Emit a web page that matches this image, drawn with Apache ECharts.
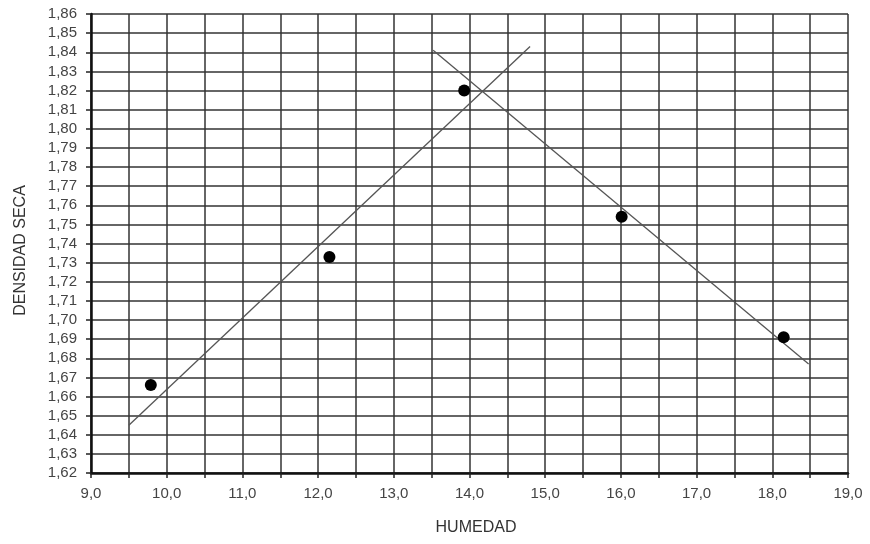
<!DOCTYPE html>
<html>
<head>
<meta charset="utf-8">
<script src="https://cdn.jsdelivr.net/npm/echarts@6/dist/echarts.min.js"></script>
<style>html,body{margin:0;padding:0;background:#fff}#c{width:870px;height:544px}</style>
</head>
<body>
<div id="c"></div>
<script>
// Data
const humedad = [9.79, 12.15, 13.93, 16.01, 18.15];
const densidad = [1.666, 1.733, 1.820, 1.754, 1.691];
const lineaSecaX = [9.5, 14.8];
const lineaSecaY = [1.645, 1.843];
const lineaHumedaX = [13.52, 18.48];
const lineaHumedaY = [1.841, 1.677];
const xTitle = 'HUMEDAD';
const yTitle = 'DENSIDAD SECA';

const chart = echarts.init(document.getElementById('c'));
const fmt = (v, d) => v.toFixed(d).replace('.', ',');
chart.setOption({
  animation: false,
  backgroundColor: '#fff',
  grid: {left: 91, right: 22, top: 14, bottom: 71},
  xAxis: {
    type: 'value', min: 9, max: 19, interval: 0.5,
    name: xTitle, nameLocation: 'middle', nameGap: 47,
    nameTextStyle: {fontFamily: 'Liberation Sans', fontSize: 16, color: '#333', padding: [0, 0, 0, 13]},
    axisLine: {show: true, onZero: false, lineStyle: {color: '#111', width: 2.5}},
    axisTick: {show: true, length: 5, lineStyle: {color: '#222', width: 1.5}},
    axisLabel: {
      fontFamily: 'Liberation Sans', fontSize: 15, color: '#444', margin: 13,
      formatter: v => (Math.abs(v - Math.round(v)) < 1e-6 ? fmt(v, 1) : '')
    },
    splitLine: {show: true, lineStyle: {color: '#333', width: 1.5}}
  },
  yAxis: {
    type: 'value', min: 1.62, max: 1.86, interval: 0.01,
    name: yTitle, nameLocation: 'middle', nameGap: 62,
    nameTextStyle: {fontFamily: 'Liberation Sans', fontSize: 16, color: '#333', padding: [0, 14, 0, 0]},
    axisLine: {show: true, onZero: false, lineStyle: {color: '#111', width: 2.5}},
    axisTick: {show: true, length: 5, lineStyle: {color: '#222', width: 1.5}},
    axisLabel: {
      fontFamily: 'Liberation Sans', fontSize: 15, color: '#444', margin: 14,
      formatter: v => fmt(v, 2)
    },
    splitLine: {show: true, lineStyle: {color: '#333', width: 1.5}}
  },
  series: [
    {
      type: 'line', symbol: 'none', silent: true,
      data: lineaSecaX.map((x, i) => [x, lineaSecaY[i]]),
      lineStyle: {color: '#555', width: 1.3}
    },
    {
      type: 'line', symbol: 'none', silent: true,
      data: lineaHumedaX.map((x, i) => [x, lineaHumedaY[i]]),
      lineStyle: {color: '#555', width: 1.3}
    },
    {
      type: 'scatter', symbol: 'circle', symbolSize: 12,
      itemStyle: {color: '#000', opacity: 1},
      data: humedad.map((x, i) => [x, densidad[i]]),
      z: 5
    }
  ]
});
</script>
</body>
</html>
